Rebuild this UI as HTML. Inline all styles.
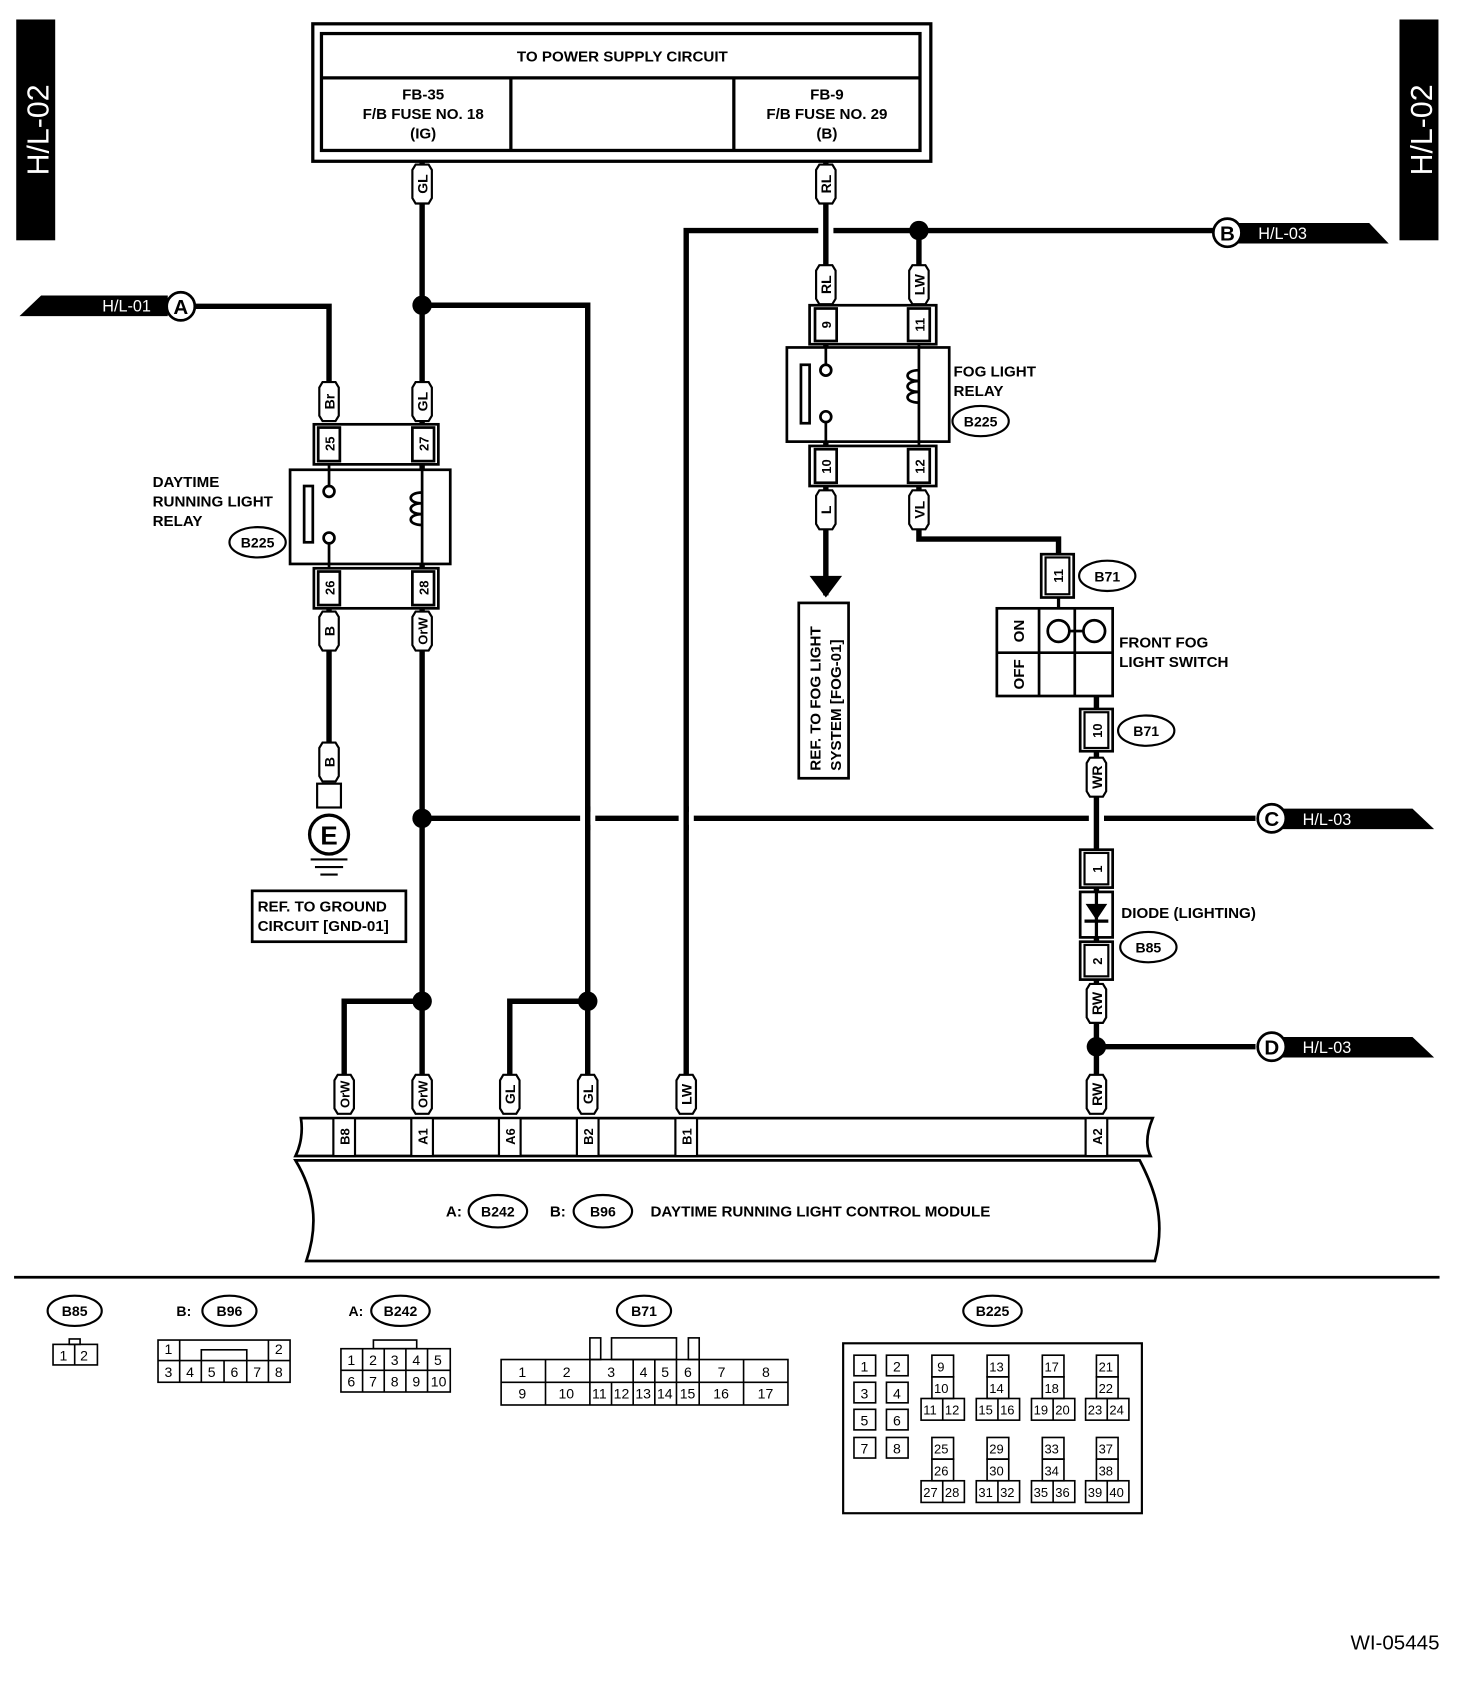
<!DOCTYPE html>
<html><head><meta charset="utf-8"><style>
html,body{margin:0;padding:0;background:#fff}
svg{display:block}
text{font-family:"Liberation Sans",Arial,sans-serif;font-weight:bold;fill:#000}
</style></head><body>
<svg width="1472" height="1694" viewBox="0 0 1360 1565" preserveAspectRatio="none" xmlns="http://www.w3.org/2000/svg">
<defs>
<g id="pill"><polygon points="-9,-13 -6,-18 6,-18 9,-13 9,13 6,18 -6,18 -9,13" fill="#fff" stroke="#000" stroke-width="2"/></g>
</defs>
<!-- side tags -->
<rect x="15" y="18" width="36" height="204" fill="#000"/>
<text transform="translate(45,120) rotate(-90)" text-anchor="middle" font-size="28" style="fill:#fff;font-weight:normal">H/L-02</text>
<rect x="1293" y="18" width="36" height="204" fill="#000"/>
<text transform="translate(1323,120) rotate(-90)" text-anchor="middle" font-size="28" style="fill:#fff;font-weight:normal">H/L-02</text>

<!-- power box -->
<rect x="289" y="22" width="571" height="127" fill="none" stroke="#000" stroke-width="3"/>
<rect x="297" y="31" width="553" height="108" fill="none" stroke="#000" stroke-width="3"/>
<line x1="297" y1="72" x2="850" y2="72" stroke="#000" stroke-width="3"/>
<line x1="472" y1="72" x2="472" y2="139" stroke="#000" stroke-width="3"/>
<line x1="678" y1="72" x2="678" y2="139" stroke="#000" stroke-width="3"/>
<text x="575" y="57" text-anchor="middle" font-size="14">TO POWER SUPPLY CIRCUIT</text>
<text x="391" y="92" text-anchor="middle" font-size="14">FB-35</text>
<text x="391" y="110" text-anchor="middle" font-size="14">F/B FUSE NO. 18</text>
<text x="391" y="128" text-anchor="middle" font-size="14">(IG)</text>
<text x="764" y="92" text-anchor="middle" font-size="14">FB-9</text>
<text x="764" y="110" text-anchor="middle" font-size="14">F/B FUSE NO. 29</text>
<text x="764" y="128" text-anchor="middle" font-size="14">(B)</text>

<!-- wires -->
<g stroke="#000" stroke-width="5" fill="none">
<polyline points="390,149 390,1000"/>
<polyline points="390,282 543,282 543,1000"/>
<polyline points="180,283 304,283 304,352"/>
<polyline points="304,562 304,690"/>
<polyline points="634,1000 634,213 1122,213"/>
<polyline points="849,213 849,282"/>
<polyline points="849,449 849,498 978,498 978,512"/>
<polyline points="390,756 1160,756"/>
<polyline points="1013,967 1160,967"/>
<polyline points="390,925 318,925 318,1000"/>
<polyline points="543,925 471,925 471,1000"/>
</g>
<!-- crossing gaps -->
<rect x="536" y="750" width="14" height="12" fill="#fff"/>
<rect x="627" y="750" width="14" height="12" fill="#fff"/>
<rect x="756" y="207" width="14" height="12" fill="#fff"/>
<rect x="1006" y="750" width="14" height="12" fill="#fff"/>
<g stroke="#000" stroke-width="5" fill="none">
<line x1="543" y1="745" x2="543" y2="767"/>
<line x1="634" y1="745" x2="634" y2="767"/>
<polyline points="763,149 763,550"/>
<polyline points="1013,643 1013,1000"/>
</g>
<!-- junctions -->
<g fill="#000"><circle cx="390" cy="282" r="9"/><circle cx="849" cy="213" r="9"/><circle cx="390" cy="756" r="9"/><circle cx="390" cy="925" r="9"/><circle cx="543" cy="925" r="9"/><circle cx="1013" cy="967" r="9"/></g>

<!-- off-page tags -->
<polygon points="18,292 38,273 155,273 155,292" fill="#000"/>
<text x="117" y="288" text-anchor="middle" font-size="15" style="fill:#fff;font-weight:normal">H/L-01</text>
<circle cx="167" cy="283" r="13" fill="#fff" stroke="#000" stroke-width="2.5"/><text x="167" y="290" text-anchor="middle" font-size="19">A</text>
<polygon points="1140,206 1265,206 1283,225 1140,225" fill="#000"/>
<text x="1185" y="221" text-anchor="middle" font-size="15" style="fill:#fff;font-weight:normal">H/L-03</text>
<circle cx="1134" cy="215" r="13" fill="#fff" stroke="#000" stroke-width="2.5"/><text x="1134" y="222" text-anchor="middle" font-size="19">B</text>
<polygon points="1180,747 1305,747 1325,766 1180,766" fill="#000"/>
<text x="1226" y="762" text-anchor="middle" font-size="15" style="fill:#fff;font-weight:normal">H/L-03</text>
<circle cx="1175" cy="756" r="13" fill="#fff" stroke="#000" stroke-width="2.5"/><text x="1175" y="763" text-anchor="middle" font-size="19">C</text>
<polygon points="1180,958 1305,958 1325,977 1180,977" fill="#000"/>
<text x="1226" y="973" text-anchor="middle" font-size="15" style="fill:#fff;font-weight:normal">H/L-03</text>
<circle cx="1175" cy="967" r="13" fill="#fff" stroke="#000" stroke-width="2.5"/><text x="1175" y="974" text-anchor="middle" font-size="19">D</text>

<!-- pills -->
<g font-size="13">
<use href="#pill" x="390" y="170"/><text transform="translate(395,170) rotate(-90)" text-anchor="middle" font-size="13">GL</text>
<use href="#pill" x="763" y="170"/><text transform="translate(768,170) rotate(-90)" text-anchor="middle" font-size="13">RL</text>
<use href="#pill" x="763" y="263"/><text transform="translate(768,263) rotate(-90)" text-anchor="middle" font-size="13">RL</text>
<use href="#pill" x="849" y="263"/><text transform="translate(854,263) rotate(-90)" text-anchor="middle" font-size="13">LW</text>
<use href="#pill" x="304" y="371"/><text transform="translate(309,371) rotate(-90)" text-anchor="middle" font-size="13">Br</text>
<use href="#pill" x="390" y="371"/><text transform="translate(395,371) rotate(-90)" text-anchor="middle" font-size="13">GL</text>
<use href="#pill" x="304" y="583"/><text transform="translate(309,583) rotate(-90)" text-anchor="middle" font-size="13">B</text>
<use href="#pill" x="390" y="583"/><text transform="translate(395,583) rotate(-90)" text-anchor="middle" font-size="12">OrW</text>
<use href="#pill" x="304" y="704"/><text transform="translate(309,704) rotate(-90)" text-anchor="middle" font-size="13">B</text>
<use href="#pill" x="763" y="471"/><text transform="translate(768,471) rotate(-90)" text-anchor="middle" font-size="13">L</text>
<use href="#pill" x="849" y="471"/><text transform="translate(854,471) rotate(-90)" text-anchor="middle" font-size="13">VL</text>
<use href="#pill" x="1013" y="718"/><text transform="translate(1018,718) rotate(-90)" text-anchor="middle" font-size="13">WR</text>
<use href="#pill" x="1013" y="927"/><text transform="translate(1018,927) rotate(-90)" text-anchor="middle" font-size="13">RW</text>
<use href="#pill" x="318" y="1011"/><text transform="translate(323,1011) rotate(-90)" text-anchor="middle" font-size="12">OrW</text>
<use href="#pill" x="390" y="1011"/><text transform="translate(395,1011) rotate(-90)" text-anchor="middle" font-size="12">OrW</text>
<use href="#pill" x="471" y="1011"/><text transform="translate(476,1011) rotate(-90)" text-anchor="middle" font-size="13">GL</text>
<use href="#pill" x="543" y="1011"/><text transform="translate(548,1011) rotate(-90)" text-anchor="middle" font-size="13">GL</text>
<use href="#pill" x="634" y="1011"/><text transform="translate(639,1011) rotate(-90)" text-anchor="middle" font-size="13">LW</text>
<use href="#pill" x="1013" y="1011"/><text transform="translate(1018,1011) rotate(-90)" text-anchor="middle" font-size="13">RW</text>
</g>

<!-- daytime relay -->
<g fill="#fff" stroke="#000" stroke-width="2.5">
<rect x="290" y="392" width="115" height="37"/>
<rect x="294" y="395" width="20" height="31"/><rect x="381" y="395" width="20" height="31"/>
<rect x="268" y="434" width="148" height="87"/>
<rect x="290" y="525" width="115" height="37"/>
<rect x="294" y="528" width="20" height="31"/><rect x="381" y="528" width="20" height="31"/>
<rect x="281" y="449" width="8" height="52"/>
<circle cx="304" cy="454" r="5"/><circle cx="304" cy="497" r="5"/>
<line x1="304" y1="429" x2="304" y2="449"/><line x1="304" y1="502" x2="304" y2="525"/>
<line x1="390" y1="429" x2="390" y2="525"/>
</g>
<path d="M390,455 c-14,0 -14,10 0,10 c-14,0 -14,10 0,10 c-14,0 -14,10 0,10" fill="none" stroke="#000" stroke-width="2.5"/>
<text transform="translate(309,410) rotate(-90)" text-anchor="middle" font-size="12">25</text>
<text transform="translate(396,410) rotate(-90)" text-anchor="middle" font-size="12">27</text>
<text transform="translate(309,543) rotate(-90)" text-anchor="middle" font-size="12">26</text>
<text transform="translate(396,543) rotate(-90)" text-anchor="middle" font-size="12">28</text>
<text x="141" y="450" font-size="14">DAYTIME</text>
<text x="141" y="468" font-size="14">RUNNING LIGHT</text>
<text x="141" y="486" font-size="14">RELAY</text>
<ellipse cx="238" cy="501" rx="26" ry="14" fill="#fff" stroke="#000" stroke-width="2"/><text x="238" y="506" text-anchor="middle" font-size="13">B225</text>

<!-- ground -->
<rect x="293" y="724" width="22" height="22" fill="#fff" stroke="#000" stroke-width="2"/>
<circle cx="304" cy="771" r="18" fill="#fff" stroke="#000" stroke-width="3"/><text x="304" y="780" text-anchor="middle" font-size="24">E</text>
<g stroke="#000" stroke-width="2"><line x1="287" y1="794" x2="321" y2="794"/><line x1="291" y1="801" x2="317" y2="801"/><line x1="296" y1="808" x2="312" y2="808"/></g>
<rect x="233" y="823" width="142" height="47" fill="none" stroke="#000" stroke-width="2.5"/>
<text x="238" y="842" font-size="14">REF. TO GROUND</text>
<text x="238" y="860" font-size="14">CIRCUIT [GND-01]</text>

<!-- fog relay -->
<g fill="#fff" stroke="#000" stroke-width="2.5">
<rect x="748" y="282" width="117" height="36"/>
<rect x="753" y="285" width="20" height="30"/><rect x="839" y="285" width="20" height="30"/>
<rect x="727" y="321" width="150" height="87"/>
<rect x="748" y="412" width="117" height="37"/>
<rect x="753" y="415" width="20" height="31"/><rect x="839" y="415" width="20" height="31"/>
<rect x="740" y="337" width="8" height="54"/>
<circle cx="763" cy="342" r="5"/><circle cx="763" cy="385" r="5"/>
<line x1="763" y1="318" x2="763" y2="337"/><line x1="763" y1="390" x2="763" y2="412"/>
<line x1="849" y1="318" x2="849" y2="412"/>
</g>
<path d="M849,342 c-14,0 -14,10 0,10 c-14,0 -14,10 0,10 c-14,0 -14,10 0,10" fill="none" stroke="#000" stroke-width="2.5"/>
<text transform="translate(768,300) rotate(-90)" text-anchor="middle" font-size="12">9</text>
<text transform="translate(854,300) rotate(-90)" text-anchor="middle" font-size="12">11</text>
<text transform="translate(768,431) rotate(-90)" text-anchor="middle" font-size="12">10</text>
<text transform="translate(854,431) rotate(-90)" text-anchor="middle" font-size="12">12</text>
<text x="881" y="348" font-size="14">FOG LIGHT</text>
<text x="881" y="366" font-size="14">RELAY</text>
<ellipse cx="906" cy="389" rx="26" ry="14" fill="#fff" stroke="#000" stroke-width="2"/><text x="906" y="394" text-anchor="middle" font-size="13">B225</text>
<polygon points="748,532 778,532 763,552" fill="#000"/>
<rect x="738" y="557" width="46" height="162" fill="none" stroke="#000" stroke-width="2.5"/>
<text transform="translate(758,712) rotate(-90)" font-size="14">REF. TO FOG LIGHT</text>
<text transform="translate(777,712) rotate(-90)" font-size="14">SYSTEM  [FOG-01]</text>

<!-- switch -->
<rect x="962" y="512" width="30" height="40" fill="#fff" stroke="#000" stroke-width="2.5"/>
<rect x="966" y="515" width="22" height="34" fill="none" stroke="#000" stroke-width="2"/>
<text transform="translate(982,532) rotate(-90)" text-anchor="middle" font-size="12">11</text>
<ellipse cx="1023" cy="532" rx="26" ry="14" fill="#fff" stroke="#000" stroke-width="2"/><text x="1023" y="537" text-anchor="middle" font-size="13">B71</text>
<line x1="978" y1="552" x2="978" y2="562" stroke="#000" stroke-width="3"/>
<g fill="none" stroke="#000" stroke-width="2.5">
<rect x="921" y="562" width="107" height="81"/>
<line x1="960" y1="562" x2="960" y2="643"/><line x1="993" y1="562" x2="993" y2="643"/><line x1="921" y1="603" x2="1028" y2="603"/>
<circle cx="978" cy="583" r="10"/><circle cx="1011" cy="583" r="10"/>
<line x1="988" y1="583" x2="1001" y2="583"/>
</g>
<text transform="translate(946,583) rotate(-90)" text-anchor="middle" font-size="14">ON</text>
<text transform="translate(946,623) rotate(-90)" text-anchor="middle" font-size="14">OFF</text>
<text x="1034" y="598" font-size="14">FRONT FOG</text>
<text x="1034" y="616" font-size="14">LIGHT SWITCH</text>
<rect x="998" y="655" width="30" height="39" fill="#fff" stroke="#000" stroke-width="2.5"/>
<rect x="1002" y="658" width="22" height="33" fill="none" stroke="#000" stroke-width="2"/>
<text transform="translate(1018,675) rotate(-90)" text-anchor="middle" font-size="12">10</text>
<ellipse cx="1059" cy="675" rx="26" ry="14" fill="#fff" stroke="#000" stroke-width="2"/><text x="1059" y="680" text-anchor="middle" font-size="13">B71</text>

<!-- diode -->
<rect x="998" y="785" width="30" height="35" fill="#fff" stroke="#000" stroke-width="2.5"/>
<rect x="1002" y="788" width="22" height="29" fill="none" stroke="#000" stroke-width="2"/>
<text transform="translate(1018,803) rotate(-90)" text-anchor="middle" font-size="12">1</text>
<rect x="998" y="824" width="30" height="42" fill="#fff" stroke="#000" stroke-width="2.5"/>
<line x1="1013" y1="824" x2="1013" y2="866" stroke="#000" stroke-width="3"/>
<polygon points="1003,835 1023,835 1013,850" fill="#000"/><line x1="1002" y1="851" x2="1024" y2="851" stroke="#000" stroke-width="3"/>
<rect x="998" y="870" width="30" height="35" fill="#fff" stroke="#000" stroke-width="2.5"/>
<rect x="1002" y="873" width="22" height="29" fill="none" stroke="#000" stroke-width="2"/>
<text transform="translate(1018,888) rotate(-90)" text-anchor="middle" font-size="12">2</text>
<text x="1036" y="848" font-size="14">DIODE (LIGHTING)</text>
<ellipse cx="1061" cy="875" rx="26" ry="14" fill="#fff" stroke="#000" stroke-width="2"/><text x="1061" y="880" text-anchor="middle" font-size="13">B85</text>

<!-- module -->
<path d="M278,1033 L1065,1033 C1060,1045 1058,1058 1063,1068 L273,1068 C278,1058 280,1045 278,1033 Z" fill="#fff" stroke="#000" stroke-width="2.5"/>
<path d="M273,1072 L1053,1072 C1065,1095 1078,1125 1067,1165 L283,1165 C295,1130 290,1100 273,1072 Z" fill="#fff" stroke="#000" stroke-width="2.5"/>
<g fill="#fff" stroke="#000" stroke-width="2">
<rect x="308" y="1033" width="20" height="35"/><rect x="380" y="1033" width="20" height="35"/><rect x="461" y="1033" width="20" height="35"/><rect x="533" y="1033" width="20" height="35"/><rect x="624" y="1033" width="20" height="35"/><rect x="1003" y="1033" width="20" height="35"/>
</g>
<g font-size="12">
<text transform="translate(323,1050) rotate(-90)" text-anchor="middle">B8</text>
<text transform="translate(395,1050) rotate(-90)" text-anchor="middle">A1</text>
<text transform="translate(476,1050) rotate(-90)" text-anchor="middle">A6</text>
<text transform="translate(548,1050) rotate(-90)" text-anchor="middle">B2</text>
<text transform="translate(639,1050) rotate(-90)" text-anchor="middle">B1</text>
<text transform="translate(1018,1050) rotate(-90)" text-anchor="middle">A2</text>
</g>
<text x="412" y="1124" font-size="14">A:</text>
<ellipse cx="460" cy="1119" rx="27" ry="15" fill="#fff" stroke="#000" stroke-width="2"/><text x="460" y="1124" text-anchor="middle" font-size="13">B242</text>
<text x="508" y="1124" font-size="14">B:</text>
<ellipse cx="557" cy="1119" rx="27" ry="15" fill="#fff" stroke="#000" stroke-width="2"/><text x="557" y="1124" text-anchor="middle" font-size="13">B96</text>
<text x="601" y="1124" font-size="14">DAYTIME RUNNING LIGHT CONTROL MODULE</text>

<line x1="13" y1="1180" x2="1330" y2="1180" stroke="#000" stroke-width="2.5"/>

<!-- connector diagrams -->
<g font-size="13">
<ellipse cx="69" cy="1211" rx="25" ry="14" fill="#fff" stroke="#000" stroke-width="2"/><text x="69" y="1216" text-anchor="middle">B85</text>
<text x="163" y="1216" font-size="13">B:</text>
<ellipse cx="212" cy="1211" rx="25" ry="14" fill="#fff" stroke="#000" stroke-width="2"/><text x="212" y="1216" text-anchor="middle">B96</text>
<text x="322" y="1216" font-size="13">A:</text>
<ellipse cx="370" cy="1211" rx="27" ry="14" fill="#fff" stroke="#000" stroke-width="2"/><text x="370" y="1216" text-anchor="middle">B242</text>
<ellipse cx="595" cy="1211" rx="25" ry="14" fill="#fff" stroke="#000" stroke-width="2"/><text x="595" y="1216" text-anchor="middle">B71</text>
<ellipse cx="917" cy="1211" rx="27" ry="14" fill="#fff" stroke="#000" stroke-width="2"/><text x="917" y="1216" text-anchor="middle">B225</text>
</g>
<g fill="none" stroke="#000" stroke-width="1.5" font-size="13">
<rect x="49" y="1242" width="41" height="19"/><line x1="69" y1="1242" x2="69" y2="1261"/><rect x="64" y="1237" width="10" height="5"/>
<rect x="146" y="1238" width="122" height="39"/><line x1="146" y1="1257" x2="268" y2="1257"/>
<polyline points="166,1238 166,1257"/><polyline points="186,1257 186,1247 228,1247 228,1257"/><polyline points="248,1238 248,1257"/>
<line x1="166" y1="1257" x2="166" y2="1277"/><line x1="186" y1="1257" x2="186" y2="1277"/><line x1="207" y1="1257" x2="207" y2="1277"/><line x1="228" y1="1257" x2="228" y2="1277"/><line x1="248" y1="1257" x2="248" y2="1277"/>
<rect x="315" y="1246" width="101" height="40"/><line x1="315" y1="1266" x2="416" y2="1266"/><rect x="345" y="1238" width="40" height="8"/>
<line x1="335" y1="1246" x2="335" y2="1286"/><line x1="355" y1="1246" x2="355" y2="1286"/><line x1="375" y1="1246" x2="375" y2="1286"/><line x1="395" y1="1246" x2="395" y2="1286"/>
<rect x="463" y="1256" width="265" height="42"/><line x1="463" y1="1277" x2="728" y2="1277"/>
<rect x="545" y="1236" width="10" height="20"/><rect x="565" y="1236" width="60" height="20"/><rect x="636" y="1236" width="10" height="20"/>
<line x1="504" y1="1256" x2="504" y2="1298"/><line x1="545" y1="1256" x2="545" y2="1298"/><line x1="585" y1="1256" x2="585" y2="1298"/><line x1="605" y1="1256" x2="605" y2="1298"/><line x1="625" y1="1256" x2="625" y2="1298"/><line x1="646" y1="1256" x2="646" y2="1298"/><line x1="687" y1="1256" x2="687" y2="1298"/><line x1="565" y1="1277" x2="565" y2="1298"/>
<rect x="779" y="1241" width="276" height="157" stroke-width="2"/>
</g>
<g font-size="13" style="font-weight:normal">
<text x="55" y="1257" style="font-weight:normal">1</text><text x="74" y="1257" style="font-weight:normal">2</text>
<text x="152" y="1251" style="font-weight:normal">1</text><text x="254" y="1251" style="font-weight:normal">2</text>
<text x="152" y="1272" style="font-weight:normal">3</text><text x="172" y="1272" style="font-weight:normal">4</text><text x="192" y="1272" style="font-weight:normal">5</text><text x="213" y="1272" style="font-weight:normal">6</text><text x="234" y="1272" style="font-weight:normal">7</text><text x="254" y="1272" style="font-weight:normal">8</text>
<text x="321" y="1261" style="font-weight:normal">1</text><text x="341" y="1261" style="font-weight:normal">2</text><text x="361" y="1261" style="font-weight:normal">3</text><text x="381" y="1261" style="font-weight:normal">4</text><text x="401" y="1261" style="font-weight:normal">5</text>
<text x="321" y="1281" style="font-weight:normal">6</text><text x="341" y="1281" style="font-weight:normal">7</text><text x="361" y="1281" style="font-weight:normal">8</text><text x="381" y="1281" style="font-weight:normal">9</text><text x="398" y="1281" style="font-weight:normal">10</text>
<text x="479" y="1272" style="font-weight:normal">1</text><text x="520" y="1272" style="font-weight:normal">2</text><text x="561" y="1272" style="font-weight:normal">3</text><text x="591" y="1272" style="font-weight:normal">4</text><text x="611" y="1272" style="font-weight:normal">5</text><text x="632" y="1272" style="font-weight:normal">6</text><text x="663" y="1272" style="font-weight:normal">7</text><text x="704" y="1272" style="font-weight:normal">8</text>
<text x="479" y="1292" style="font-weight:normal">9</text><text x="516" y="1292" style="font-weight:normal">10</text><text x="547" y="1292" style="font-weight:normal">11</text><text x="567" y="1292" style="font-weight:normal">12</text><text x="587" y="1292" style="font-weight:normal">13</text><text x="607" y="1292" style="font-weight:normal">14</text><text x="628" y="1292" style="font-weight:normal">15</text><text x="659" y="1292" style="font-weight:normal">16</text><text x="700" y="1292" style="font-weight:normal">17</text>
</g>
<g fill="none" stroke="#000" stroke-width="1.5">
<rect x="789" y="1252" width="20" height="19"/><rect x="819" y="1252" width="20" height="19"/>
<rect x="789" y="1277" width="20" height="19"/><rect x="819" y="1277" width="20" height="19"/>
<rect x="789" y="1302" width="20" height="19"/><rect x="819" y="1302" width="20" height="19"/>
<rect x="789" y="1328" width="20" height="19"/><rect x="819" y="1328" width="20" height="19"/>
</g>
<g font-size="13" style="font-weight:normal">
<text x="795" y="1267" style="font-weight:normal">1</text><text x="825" y="1267" style="font-weight:normal">2</text>
<text x="795" y="1292" style="font-weight:normal">3</text><text x="825" y="1292" style="font-weight:normal">4</text>
<text x="795" y="1317" style="font-weight:normal">5</text><text x="825" y="1317" style="font-weight:normal">6</text>
<text x="795" y="1343" style="font-weight:normal">7</text><text x="825" y="1343" style="font-weight:normal">8</text>
</g>
<g id="blk" fill="none" stroke="#000" stroke-width="1.5">
<rect x="861" y="1252" width="20" height="20"/><rect x="861" y="1272" width="20" height="20"/><rect x="851" y="1292" width="40" height="20"/><line x1="871" y1="1292" x2="871" y2="1312"/>
</g>
<use href="#blk" x="51"/><use href="#blk" x="102"/><use href="#blk" x="152"/>
<use href="#blk" y="76"/><use href="#blk" x="51" y="76"/><use href="#blk" x="102" y="76"/><use href="#blk" x="152" y="76"/>
<g font-size="12" style="font-weight:normal">
<text x="866" y="1267" style="font-weight:normal">9</text><text x="863" y="1287" style="font-weight:normal">10</text><text x="853" y="1307" style="font-weight:normal">11</text><text x="873" y="1307" style="font-weight:normal">12</text>
<text x="914" y="1267" style="font-weight:normal">13</text><text x="914" y="1287" style="font-weight:normal">14</text><text x="904" y="1307" style="font-weight:normal">15</text><text x="924" y="1307" style="font-weight:normal">16</text>
<text x="965" y="1267" style="font-weight:normal">17</text><text x="965" y="1287" style="font-weight:normal">18</text><text x="955" y="1307" style="font-weight:normal">19</text><text x="975" y="1307" style="font-weight:normal">20</text>
<text x="1015" y="1267" style="font-weight:normal">21</text><text x="1015" y="1287" style="font-weight:normal">22</text><text x="1005" y="1307" style="font-weight:normal">23</text><text x="1025" y="1307" style="font-weight:normal">24</text>
<text x="863" y="1343" style="font-weight:normal">25</text><text x="863" y="1363" style="font-weight:normal">26</text><text x="853" y="1383" style="font-weight:normal">27</text><text x="873" y="1383" style="font-weight:normal">28</text>
<text x="914" y="1343" style="font-weight:normal">29</text><text x="914" y="1363" style="font-weight:normal">30</text><text x="904" y="1383" style="font-weight:normal">31</text><text x="924" y="1383" style="font-weight:normal">32</text>
<text x="965" y="1343" style="font-weight:normal">33</text><text x="965" y="1363" style="font-weight:normal">34</text><text x="955" y="1383" style="font-weight:normal">35</text><text x="975" y="1383" style="font-weight:normal">36</text>
<text x="1015" y="1343" style="font-weight:normal">37</text><text x="1015" y="1363" style="font-weight:normal">38</text><text x="1005" y="1383" style="font-weight:normal">39</text><text x="1025" y="1383" style="font-weight:normal">40</text>
</g>

<text x="1330" y="1524" text-anchor="end" font-size="19" style="font-weight:normal">WI-05445</text>
</svg>
</body></html>
